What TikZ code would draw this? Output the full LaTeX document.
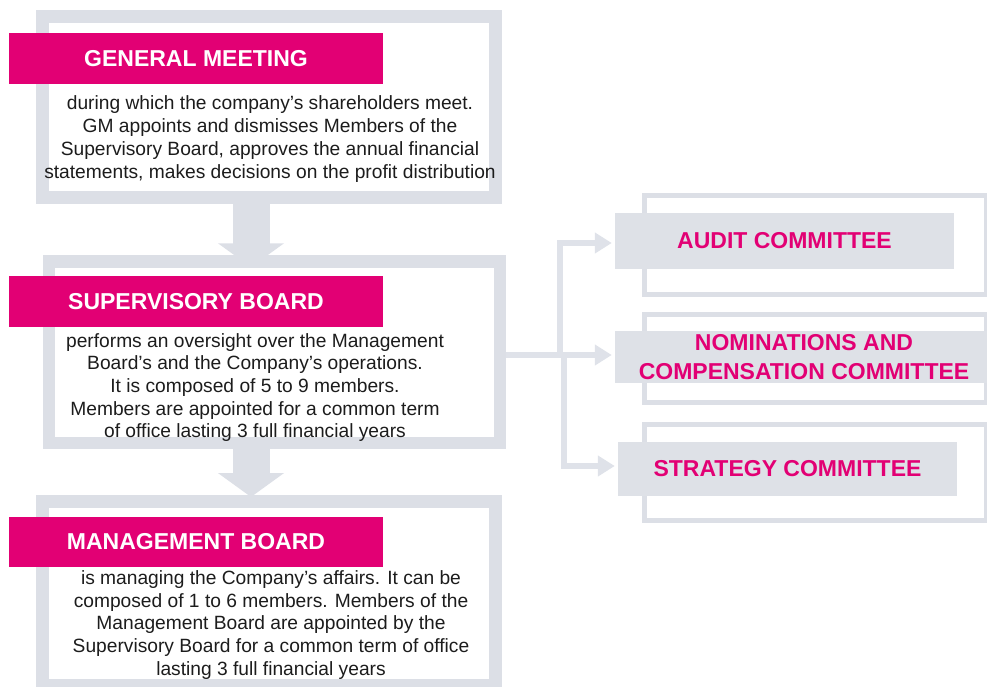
\documentclass[tikz,border=0pt]{standalone}
\usepackage{fontspec}
\setmainfont{Liberation Sans}
\usetikzlibrary{arrows.meta}
\definecolor{lg}{RGB}{220,223,230}
\definecolor{lgbox}{RGB}{222,225,231}
\definecolor{lgconn}{RGB}{223,226,233}
\definecolor{mag}{RGB}{226,0,116}
\definecolor{txt}{RGB}{28,28,28}
\begin{document}
\begin{tikzpicture}[x=1pt,y=-1pt,
  bigframe/.style={draw=lg, line width=13pt, inner sep=0pt},
  smallframe/.style={draw=lg, line width=5pt, inner sep=0pt, minimum width=342pt},
  hdr/.style={fill=mag, text=white, inner sep=0pt, minimum width=374pt,
    font=\bfseries\fontsize{23}{27}\selectfont},
  body/.style={text=txt, align=center, inner sep=0pt,
    font=\fontsize{19.2}{22.7}\selectfont},
  cbox/.style={fill=lgbox, text=mag, align=center, inner sep=0pt,
    font=\bfseries\fontsize{23}{29}\selectfont},
  bigarrow/.style={draw=lg, line width=37pt, -{Triangle[length=24pt,width=65pt]}},
  conn/.style={draw=lgconn, line width=5.5pt},
  connarrow/.style={conn, -{Triangle[length=17pt,width=20pt]}}
]
\useasboundingbox (0,0) rectangle (987,686);

% big frames
\node[bigframe, minimum width=452.5pt, minimum height=181pt] (gm) at (268.75,107) {};
\node[bigframe, line width=12.5pt, minimum width=451pt, minimum height=181.5pt] (sb) at (274.5,352.25) {};
\node[bigframe, minimum width=452.5pt, minimum height=183.5pt] (mb) at (268.75,593.25) {};

% down arrows
\coordinate (ax) at (251,0);
\draw[bigarrow] (gm.south -| ax) -- ([yshift=-12pt]sb.north -| ax);
\draw[bigarrow] (sb.south -| ax) -- ([yshift=-2pt]mb.north -| ax);

% headers
\node[hdr, minimum height=51pt] (gmh) at (196,58.5) {GENERAL MEETING};
\node[hdr, minimum height=51pt] (sbh) at (196,301.5) {SUPERVISORY BOARD};
\node[hdr, minimum height=50pt] (mbh) at (196,542) {MANAGEMENT BOARD};

% body texts
\node[body] (gmt) at (270,139) {during which the company’s shareholders meet.\\
GM appoints and dismisses Members of the\\
Supervisory Board, approves the annual financial\\
statements, makes decisions on the profit distribution};
\node[body] (sbt) at (255,387.5) {performs an oversight over the Management\\
Board’s and the Company’s operations.\\
It is composed of 5 to 9 members.\\
Members are appointed for a common term\\
of office lasting 3 full financial years};
\node[body] (mbt) at (271,625) {is managing the Company’s affairs. It can be\\
composed of 1 to 6 members. Members of the\\
Management Board are appointed by the\\
Supervisory Board for a common term of office\\
lasting 3 full financial years};

% committee frames
\node[smallframe, minimum height=99pt] (af) at (815,244.5) {};
\node[smallframe, minimum height=88pt] (nf) at (815,358) {};
\node[smallframe, minimum height=96pt] (sf) at (815.5,472) {};

% committee boxes
\node[cbox, minimum width=339pt, minimum height=56pt] (audit) at (784.5,241) {AUDIT COMMITTEE};
\node[cbox, minimum width=378pt, minimum height=52pt] (nom) at (804,357) {NOMINATIONS AND\\COMPENSATION COMMITTEE};
\node[cbox, minimum width=339pt, minimum height=54pt] (strat) at (787.5,469) {STRATEGY COMMITTEE};

% connectors
\coordinate (ne) at ([xshift=-3pt,yshift=2pt]nom.west -| audit.west);
\coordinate (j1) at (560,355);
\coordinate (j2) at (564,355);
\draw[connarrow] (ne -| sb.east) -- (ne);
\draw[connarrow] (j1) |- ([xshift=-3pt,yshift=-2pt]audit.west);
\draw[connarrow] (j2) |- ([xshift=-3pt,yshift=3pt]strat.west);
\end{tikzpicture}
\end{document}
